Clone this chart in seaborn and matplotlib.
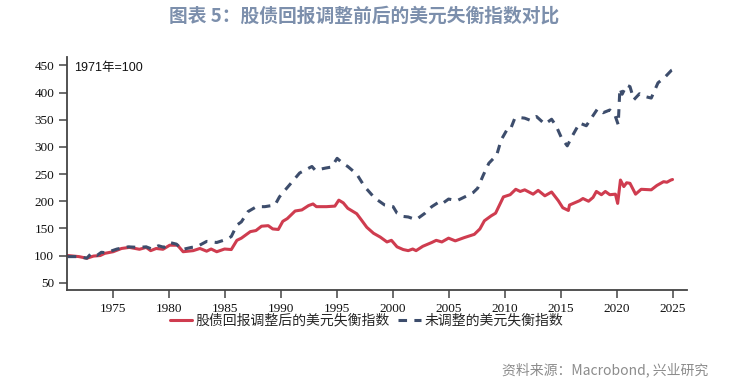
import matplotlib
matplotlib.use("Agg")
import matplotlib.pyplot as plt
import seaborn as sns
import pandas as pd

# ---------------- data ----------------
years_adj = [1971.0, 1971.5, 1972.0, 1972.7, 1973.3, 1973.9, 1974.3, 1975.05, 1975.8, 1976.5,
             1977.4, 1978.0, 1978.4, 1978.9, 1979.5, 1980.1, 1980.8, 1981.3, 1982.2, 1982.8,
             1983.4, 1983.8, 1984.3, 1985.0, 1985.6, 1986.1, 1986.5, 1987.3, 1987.8, 1988.3,
             1988.9, 1989.3, 1989.8, 1990.2, 1990.6, 1991.3, 1991.9, 1992.5, 1992.9, 1993.2,
             1994.1, 1994.85, 1995.2, 1995.6, 1996.0, 1996.8, 1997.2, 1997.7, 1998.3, 1998.9,
             1999.5, 1999.9, 2000.4, 2000.95, 2001.4, 2001.8, 2002.1, 2002.7, 2003.5, 2003.9,
             2004.4, 2005.0, 2005.6, 2006.4, 2007.3, 2007.8, 2008.2, 2008.8, 2009.2, 2009.9,
             2010.5, 2011.0, 2011.4, 2011.8, 2012.55, 2013.0, 2013.6, 2014.2, 2014.8, 2015.2,
             2015.7, 2015.8, 2016.7, 2017.0, 2017.5, 2017.9, 2018.2, 2018.65, 2019.0, 2019.4,
             2019.9, 2020.1, 2020.35, 2020.65, 2020.9, 2021.2, 2021.7, 2022.2, 2023.1, 2023.6,
             2024.2, 2024.5, 2024.85, 2025.0]
adj_index = [100, 99, 98, 95, 99, 100, 104, 107, 113, 115,
             111.5, 115, 109, 113, 111.5, 119, 119, 107, 109, 113,
             108, 112, 107, 112, 111, 128, 132, 144, 146, 154,
             155, 149, 148, 163, 168, 182, 184, 192, 195, 190,
             190, 191, 202, 197, 187, 177, 166, 152, 141, 134,
             125, 128, 116, 111, 109, 112, 109, 117, 124, 128,
             125, 132, 127, 133, 139, 149, 164, 173, 178, 208,
             212, 222, 218, 221, 213, 220, 210, 217, 201, 188,
             183, 193, 201, 205, 200, 207, 218, 212, 218, 212,
             213, 196, 239, 227, 234, 233, 213, 222, 221, 229,
             236, 235, 239, 240]

years_raw = [1971.0, 1971.5, 1972.0, 1972.7, 1973.1, 1973.6, 1974.0, 1974.4, 1975.4, 1976.4,
             1977.3, 1978.0, 1978.5, 1979.1, 1979.6, 1980.1, 1980.7, 1981.2, 1982.05, 1982.5,
             1983.4, 1984.3, 1985.2, 1985.6, 1986.1, 1986.5, 1987.1, 1987.85, 1988.6, 1989.5,
             1989.9, 1990.3, 1990.8, 1991.7, 1992.8, 1993.1, 1994.0, 1994.55, 1995.05, 1995.6,
             1996.0, 1996.8, 1997.5, 1998.4, 1999.3, 2000.05, 2000.4, 2000.95, 2001.4, 2002.1,
             2002.9, 2003.5, 2004.1, 2004.4, 2005.0, 2005.75, 2006.45, 2007.2, 2007.6, 2008.1,
             2008.6, 2009.3, 2009.7, 2010.2, 2010.5, 2010.9, 2011.4, 2011.8, 2012.3, 2012.85,
             2013.6, 2014.2, 2014.6, 2015.1, 2015.6, 2016.1, 2016.7, 2017.3, 2017.75, 2018.3,
             2018.8, 2019.4, 2019.85, 2020.15, 2020.3, 2020.5, 2020.9, 2021.2, 2021.55, 2022.05,
             2022.5, 2023.1, 2023.7, 2024.3, 2024.9, 2025.0]
raw_index = [98, 98, 98, 95, 104, 100, 106, 105, 112, 116,
             115, 116, 112, 118, 115, 124, 121, 111, 115, 116,
             126, 124, 130, 135, 156, 162, 181, 190, 190, 193,
             208, 218, 230, 252, 264, 257, 261, 263, 279, 269,
             264, 250, 227, 206, 193, 190, 178, 172, 171, 166,
             178, 190, 198, 195, 204, 201, 208, 216, 224, 248,
             270, 285, 313, 331, 331, 352, 354, 353, 349, 356,
             342, 351, 339, 316, 302, 322, 344, 339, 353, 370,
             363, 368, 359, 341, 408, 397, 414, 411, 387, 398,
             393, 390, 418, 428, 441, 442]

series_names = ["股债回报调整后的美元失衡指数", "未调整的美元失衡指数"]
x_ticks = [1975, 1980, 1985, 1990, 1995, 2000, 2005, 2010, 2015, 2020, 2025]
y_ticks = [50, 100, 150, 200, 250, 300, 350, 400, 450]

title_text = "图表 5：股债回报调整前后的美元失衡指数对比"
note_text = "1971年=100"
source_text = "资料来源：Macrobond, 兴业研究"

# ---------------- styling ----------------
sns.set_style("ticks")
plt.rcParams["font.family"] = ["Noto Sans CJK SC", "DejaVu Sans"]
plt.rcParams["axes.unicode_minus"] = False

red = "#cf3c4f"
blue = "#3d4d6c"
spine_col = "#444444"

fig = plt.figure(figsize=(7.39, 3.83), dpi=100)
ax = fig.add_axes([0.0902, 0.2428, 0.929 - 0.0902, 0.851 - 0.2428])

df_adj = pd.DataFrame({"year": years_adj, "value": adj_index})
df_raw = pd.DataFrame({"year": years_raw, "value": raw_index})

sns.lineplot(data=df_adj, x="year", y="value", ax=ax, color=red, linewidth=2.2,
             label=series_names[0], legend=False)
sns.lineplot(data=df_raw, x="year", y="value", ax=ax, color=blue, linewidth=2.2,
             label=series_names[1], legend=False)
ax.lines[1].set_dashes([2.8, 2.4])

ax.set_xlim(1970.9, 2026.25)
ax.set_ylim(36.5, 465.5)
ax.set_xticks(x_ticks)
ax.set_yticks(y_ticks)
ax.set_xlabel("")
ax.set_ylabel("")

for s in ["top", "right"]:
    ax.spines[s].set_visible(False)
for s in ["left", "bottom"]:
    ax.spines[s].set_color(spine_col)
    ax.spines[s].set_linewidth(1.3)

ax.tick_params(axis="both", direction="out", length=6, width=1.1, color=spine_col,
               labelsize=9.5, labelcolor="#111111", pad=3)
for lab in ax.get_xticklabels() + ax.get_yticklabels():
    lab.set_fontfamily("Liberation Serif")

ax.text(0.012, 0.955, note_text, transform=ax.transAxes, ha="left", va="center",
        fontsize=9, color="#111111", family=["Liberation Sans", "Noto Sans CJK SC"])

handles, labels = ax.get_legend_handles_labels()
fig.legend(handles, labels, loc="center", bbox_to_anchor=(0.496, 0.162), ncol=2,
           frameon=False, fontsize=10, handlelength=1.6, handletextpad=0.25,
           columnspacing=0.6)

fig.text(0.4926, 0.958, title_text, ha="center", va="center", fontsize=13.5,
         fontweight="bold", color="#7c8fac")
fig.text(0.958, 0.034, source_text, ha="right", va="center", fontsize=10,
         color="#8c8c8c")

fig.savefig("out.png", dpi=100)
